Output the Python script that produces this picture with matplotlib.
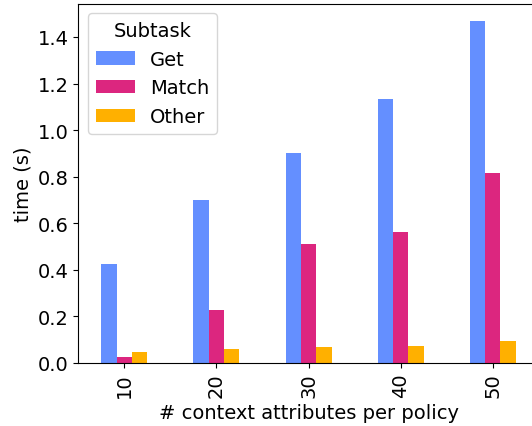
import matplotlib
matplotlib.use("Agg")
import matplotlib.pyplot as plt
import pandas as pd

# time per subtask vs. number of context attributes
attributes = [10, 20, 30, 40, 50]
get_time = [0.426, 0.701, 0.903, 1.135, 1.470]
match_time = [0.027, 0.229, 0.512, 0.564, 0.817]
other_time = [0.048, 0.061, 0.070, 0.074, 0.095]

colors = ["#648FFF", "#DC267F", "#FFB000"]

df = pd.DataFrame(
    {"Get": get_time, "Match": match_time, "Other": other_time},
    index=attributes,
)

plt.rcParams["font.size"] = 14

fig = plt.figure(figsize=(5.32, 4.27), dpi=100)
ax = fig.add_axes([78.3 / 532, 63 / 427, 460.5 / 532, 359.5 / 427])

df.plot.bar(ax=ax, color=colors, legend=False)

ax.set_xlabel("# context attributes per policy")
ax.set_ylabel("time (s)")
ax.legend(title="Subtask", loc="upper left")

fig.savefig("out.png", dpi=100)
